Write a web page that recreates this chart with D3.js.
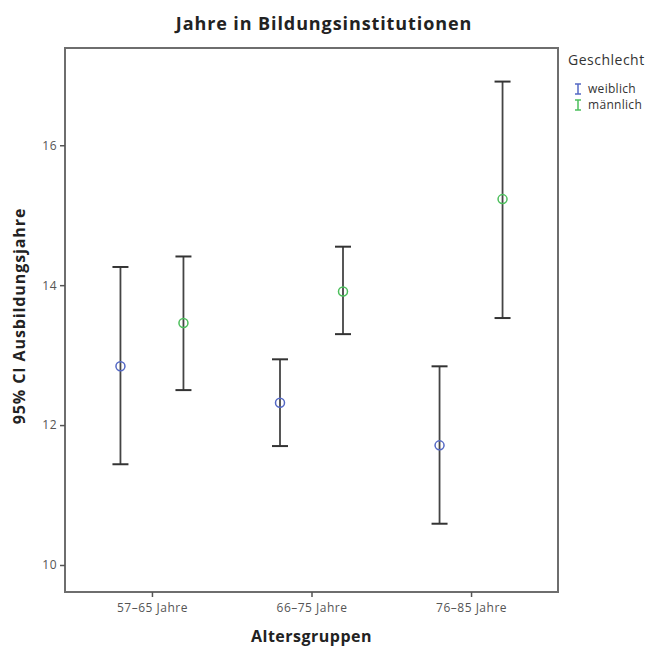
<!DOCTYPE html>
<html><head><meta charset="utf-8">
<script src="https://cdn.jsdelivr.net/npm/d3@7/dist/d3.min.js"></script>
<style>body{margin:0;background:#fff}</style>
</head><body>
<script>
const categories = ["57–65 Jahre", "66–75 Jahre", "76–85 Jahre"];
const series = ["weiblich", "männlich"];
const seriesColors = ["#5468c4", "#4cbf5c"];
const meanWeiblich = [12.84, 12.32, 11.71];
const lowerWeiblich = [11.44, 11.70, 10.59];
const upperWeiblich = [14.26, 12.94, 12.84];
const meanMaennlich = [13.46, 13.91, 15.23];
const lowerMaennlich = [12.50, 13.30, 13.53];
const upperMaennlich = [14.41, 14.55, 16.91];
const yTicks = [10, 12, 14, 16];

const W = 655, H = 649;
const L = 65, R = 558, T = 48, B = 592;
const svg = d3.select("body").append("svg").attr("width", W).attr("height", H)
  .style("font-family", "'Open Sans', sans-serif");

const x = d3.scalePoint().domain(categories).range([L, R]).padding(0.545);
const xs = d3.scalePoint().domain(series).range([-31.5, 31.5]);
const y = d3.scaleLinear().domain([9.614, 17.39]).range([B, T]);

// frame
svg.append("rect").attr("x", L).attr("y", T).attr("width", R - L).attr("height", B - T)
  .attr("fill", "none").attr("stroke", "#6e6e6e").attr("stroke-width", 2);

// axes
const yAxis = svg.append("g").attr("transform", `translate(${L},0)`)
  .call(d3.axisLeft(y).tickValues(yTicks).tickSize(5).tickPadding(3).tickFormat(d3.format("d")));
const xAxis = svg.append("g").attr("transform", `translate(0,${B})`)
  .call(d3.axisBottom(x).tickSize(5).tickPadding(6));
[yAxis, xAxis].forEach(g => {
  g.select(".domain").remove();
  g.selectAll(".tick line").attr("stroke", "#555").attr("stroke-width", 1.5);
  g.selectAll(".tick text").attr("fill", "#555").style("font-size", "12px")
    .style("letter-spacing", "0.5px")
    .style("font-family", "'Open Sans', sans-serif");
});

const data = [];
categories.forEach((c, i) => {
  data.push({c, s: series[0], m: meanWeiblich[i], lo: lowerWeiblich[i], hi: upperWeiblich[i], col: seriesColors[0]});
  data.push({c, s: series[1], m: meanMaennlich[i], lo: lowerMaennlich[i], hi: upperMaennlich[i], col: seriesColors[1]});
});

const g = svg.append("g");
const bars = g.selectAll("g.bar").data(data).join("g")
  .attr("transform", d => `translate(${x(d.c) + xs(d.s)},0)`);
bars.append("line").attr("y1", d => y(d.lo)).attr("y2", d => y(d.hi))
  .attr("stroke", "#444").attr("stroke-width", 1.8);
bars.append("line").attr("x1", -8).attr("x2", 8).attr("y1", d => y(d.hi)).attr("y2", d => y(d.hi))
  .attr("stroke", "#333").attr("stroke-width", 2);
bars.append("line").attr("x1", -8).attr("x2", 8).attr("y1", d => y(d.lo)).attr("y2", d => y(d.lo))
  .attr("stroke", "#333").attr("stroke-width", 2);
bars.append("circle").attr("cy", d => y(d.m)).attr("r", 4.5)
  .attr("fill", "none").attr("stroke", d => d.col).attr("stroke-width", 1.5);

// titles
svg.append("text").attr("x", 324).attr("y", 30).attr("text-anchor", "middle")
  .style("font-size", "18px").style("font-weight", "bold").style("letter-spacing", "0.9px").attr("fill", "#222")
  .text("Jahre in Bildungsinstitutionen");
svg.append("text").attr("x", (L + R) / 2).attr("y", 642).attr("text-anchor", "middle")
  .style("font-size", "16px").style("font-weight", "bold").style("letter-spacing", "0.5px").attr("fill", "#222")
  .text("Altersgruppen");
svg.append("text").attr("transform", `translate(25,${(T + B) / 2 - 4}) rotate(-90)`)
  .attr("text-anchor", "middle")
  .style("font-size", "16px").style("font-weight", "bold").style("letter-spacing", "0.9px").attr("fill", "#222")
  .text("95% CI Ausbildungsjahre");

// legend
const lg = svg.append("g");
lg.append("text").attr("x", 568).attr("y", 65).style("font-size", "14px").style("letter-spacing", "0.5px").attr("fill", "#333")
  .text("Geschlecht");
series.forEach((s, i) => {
  const yy = 89 + i * 16;
  const it = lg.append("g").attr("transform", `translate(578,${yy})`);
  it.append("line").attr("y1", -5).attr("y2", 5).attr("stroke", seriesColors[i]).attr("stroke-width", 1.5);
  it.append("line").attr("x1", -3).attr("x2", 3).attr("y1", -5).attr("y2", -5).attr("stroke", seriesColors[i]).attr("stroke-width", 1.5);
  it.append("line").attr("x1", -3).attr("x2", 3).attr("y1", 5).attr("y2", 5).attr("stroke", seriesColors[i]).attr("stroke-width", 1.5);
  lg.append("text").attr("x", 588).attr("y", yy + 4).style("font-size", "12px").style("letter-spacing", "0.3px").attr("fill", "#333").text(s);
});
</script>
</body></html>
